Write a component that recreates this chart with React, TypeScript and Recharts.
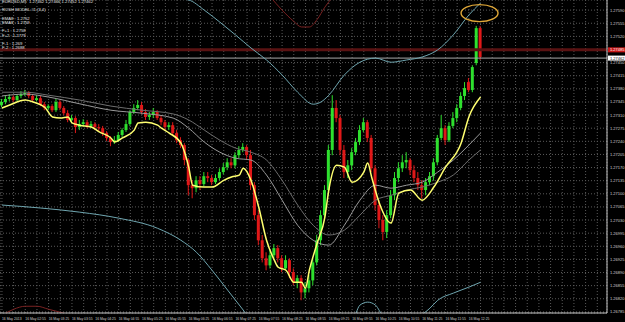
import React from "react";
import {
  ComposedChart,
  Bar,
  Line,
  XAxis,
  YAxis,
  CartesianGrid,
  ReferenceLine,
  ReferenceDot,
} from "recharts";

// ---- candle data (EURUSD M5) ----
const OPEN = [
  1.27337, 1.27345, 1.27353, 1.27358, 1.2735, 1.27361, 1.27366, 1.27369, 1.27361, 1.2735,
  1.27355, 1.27339, 1.27329, 1.27334, 1.27323, 1.27345, 1.27329, 1.27315, 1.27297, 1.27302,
  1.27278, 1.27286, 1.27291, 1.27281, 1.27286, 1.27278, 1.27275, 1.27262, 1.27249, 1.27238,
  1.27243, 1.27257, 1.2727, 1.27286, 1.27318, 1.27329, 1.27337, 1.27318, 1.27305, 1.2731,
  1.27318, 1.27302, 1.27291, 1.27278, 1.27283, 1.27262, 1.27243, 1.2723, 1.2719, 1.27123,
  1.27115, 1.27136, 1.27126, 1.27147, 1.27142, 1.27131, 1.27142, 1.27158, 1.27171, 1.27184,
  1.27176, 1.27203, 1.27217, 1.27225, 1.27203, 1.27123, 1.27043, 1.26976, 1.26928, 1.26909,
  1.26936, 1.26955, 1.26928, 1.26901, 1.26923, 1.26891, 1.26864, 1.26875, 1.26837, 1.26848,
  1.26869, 1.26917, 1.26976, 1.27043, 1.2711, 1.27217, 1.27329, 1.27302, 1.27217, 1.27158,
  1.27176, 1.27211, 1.27238, 1.2727, 1.27291, 1.27249, 1.27168, 1.2707, 1.2703, 1.26998,
  1.27043, 1.27096, 1.27142, 1.27168, 1.27184, 1.2719, 1.27163, 1.27142, 1.27123, 1.2711,
  1.27131, 1.27147, 1.27184, 1.27249, 1.27275, 1.27243, 1.27281, 1.27302, 1.27329, 1.27361,
  1.27398, 1.27377, 1.27449, 1.27542,
];
const HIGH = [
  1.27353, 1.27361, 1.27366, 1.27363, 1.27366, 1.27374, 1.27377, 1.27374, 1.27366, 1.27363,
  1.27361, 1.27345, 1.27339, 1.27339, 1.27355, 1.2735, 1.27334, 1.27323, 1.2731, 1.27307,
  1.27297, 1.27299, 1.27297, 1.27294, 1.27291, 1.27286, 1.27281, 1.27267, 1.27254, 1.27254,
  1.27265, 1.27275, 1.27297, 1.27323, 1.27339, 1.2735, 1.27345, 1.27326, 1.27318, 1.27329,
  1.27323, 1.2731, 1.27297, 1.27291, 1.27291, 1.2727, 1.27251, 1.27235, 1.27195, 1.27136,
  1.27147, 1.27147, 1.27158, 1.27158, 1.2715, 1.27152, 1.27168, 1.27182, 1.27195, 1.27195,
  1.27211, 1.27227, 1.27235, 1.2723, 1.27217, 1.27131, 1.27056, 1.2699, 1.26944, 1.26949,
  1.26966, 1.26963, 1.26936, 1.26936, 1.26928, 1.26901, 1.26883, 1.26883, 1.26864, 1.26883,
  1.26928, 1.2699, 1.27056, 1.27123, 1.2723, 1.27363, 1.2735, 1.2731, 1.2723, 1.2719,
  1.27222, 1.27249, 1.27283, 1.27302, 1.27297, 1.27257, 1.27176, 1.27083, 1.27043, 1.27056,
  1.2711, 1.27158, 1.27184, 1.27203, 1.27211, 1.27195, 1.27176, 1.27158, 1.27136, 1.27142,
  1.27158, 1.27195, 1.27257, 1.2731, 1.27283, 1.27291, 1.27318, 1.27339, 1.27371, 1.27398,
  1.27409, 1.27443, 1.27548, 1.27548,
];
const LOW = [
  1.27331, 1.27339, 1.27347, 1.27345, 1.27347, 1.27355, 1.27361, 1.27355, 1.27345, 1.27347,
  1.27334, 1.27323, 1.27323, 1.27318, 1.27318, 1.27323, 1.2731, 1.27291, 1.27291, 1.27262,
  1.2727, 1.27281, 1.27275, 1.27275, 1.2727, 1.27267, 1.27254, 1.27241, 1.27227, 1.27233,
  1.27238, 1.27251, 1.27265, 1.27281, 1.27313, 1.27323, 1.27313, 1.27297, 1.27297, 1.27302,
  1.27297, 1.27283, 1.2727, 1.2727, 1.27254, 1.27235, 1.27222, 1.27176, 1.27096, 1.27088,
  1.27104, 1.2711, 1.2712, 1.27131, 1.27123, 1.27126, 1.27136, 1.27152, 1.27163, 1.27168,
  1.27168, 1.27195, 1.27211, 1.2719, 1.2711, 1.2703, 1.26963, 1.26917, 1.26896, 1.26901,
  1.26928, 1.26917, 1.26891, 1.26896, 1.26875, 1.26856, 1.26848, 1.26816, 1.26821, 1.26837,
  1.26856, 1.26909, 1.26963, 1.2703, 1.27096, 1.27203, 1.27291, 1.27203, 1.27142, 1.27142,
  1.27163, 1.27203, 1.2723, 1.27265, 1.27238, 1.27158, 1.27056, 1.27008, 1.26976, 1.26982,
  1.27035, 1.27083, 1.27131, 1.27158, 1.27168, 1.2715, 1.27131, 1.2711, 1.27088, 1.27096,
  1.27123, 1.27136, 1.27176, 1.27243, 1.2723, 1.27238, 1.27275, 1.27291, 1.27323, 1.2735,
  1.27371, 1.27371, 1.27443, 1.27457,
];
const CLOSE = [
  1.27345, 1.27353, 1.27358, 1.2735, 1.27361, 1.27366, 1.27369, 1.27361, 1.2735, 1.27355,
  1.27339, 1.27329, 1.27334, 1.27323, 1.27345, 1.27329, 1.27315, 1.27297, 1.27302, 1.27278,
  1.27286, 1.27291, 1.27281, 1.27286, 1.27278, 1.27275, 1.27262, 1.27249, 1.27238, 1.27243,
  1.27257, 1.2727, 1.27286, 1.27318, 1.27329, 1.27337, 1.27318, 1.27305, 1.2731, 1.27318,
  1.27302, 1.27291, 1.27278, 1.27283, 1.27262, 1.27243, 1.2723, 1.2719, 1.27123, 1.27115,
  1.27136, 1.27126, 1.27147, 1.27142, 1.27131, 1.27142, 1.27158, 1.27171, 1.27184, 1.27176,
  1.27203, 1.27217, 1.27225, 1.27203, 1.27123, 1.27043, 1.26976, 1.26928, 1.26909, 1.26936,
  1.26955, 1.26928, 1.26901, 1.26923, 1.26891, 1.26864, 1.26875, 1.26837, 1.26848, 1.26869,
  1.26917, 1.26976, 1.27043, 1.2711, 1.27217, 1.27329, 1.27302, 1.27217, 1.27158, 1.27176,
  1.27211, 1.27238, 1.2727, 1.27291, 1.27249, 1.27168, 1.2707, 1.2703, 1.26998, 1.27043,
  1.27096, 1.27142, 1.27168, 1.27184, 1.2719, 1.27163, 1.27142, 1.27123, 1.2711, 1.27131,
  1.27147, 1.27184, 1.27249, 1.27275, 1.27243, 1.27281, 1.27302, 1.27329, 1.27361, 1.27382,
  1.27377, 1.27438, 1.27542, 1.27465,
];

// ---- indicator lines (read at sampled bars) ----
const EMA_IDX = [0, 2, 6, 8, 11, 13, 15, 17, 18, 20, 23, 25, 28, 29, 31, 34, 35, 37, 40, 41, 43, 46, 48, 49, 52, 54, 57, 59, 61, 62, 64, 66, 68, 70, 71, 73, 75, 77, 78, 79, 81, 83, 84, 86, 88, 90, 93, 94, 95, 97, 100, 102, 105, 108, 111, 114, 118, 120, 123];
const EMA_VAL = [1.27329, 1.27337, 1.2735, 1.27345, 1.27331, 1.27305, 1.27302, 1.27305, 1.27289, 1.27283, 1.27278, 1.27265, 1.27249, 1.27238, 1.27249, 1.2727, 1.27289, 1.27291, 1.27283, 1.27275, 1.27262, 1.27235, 1.27171, 1.27123, 1.27118, 1.27118, 1.27136, 1.27145, 1.2715, 1.27168, 1.27136, 1.27064, 1.26976, 1.26923, 1.26904, 1.26896, 1.26864, 1.26864, 1.26848, 1.26896, 1.26968, 1.27038, 1.2711, 1.27176, 1.27171, 1.27131, 1.27158, 1.27182, 1.27145, 1.27075, 1.27022, 1.27102, 1.2711, 1.27083, 1.27118, 1.27171, 1.27235, 1.27305, 1.27358];

const MA1_IDX = [0, 6, 12, 20, 28, 36, 44, 48, 52, 56, 60, 64, 68, 72, 76, 80, 84, 88, 92, 96, 100, 104, 108, 112, 116, 120, 123];
const MA1_VAL = [1.27361, 1.27366, 1.27358, 1.2734, 1.27323, 1.27315, 1.27302, 1.27275, 1.27238, 1.27211, 1.27195, 1.2719, 1.2715, 1.27083, 1.27016, 1.26976, 1.26963, 1.27016, 1.27083, 1.27123, 1.27115, 1.27123, 1.27131, 1.27158, 1.2719, 1.2723, 1.27262];
const MA2_IDX = [0, 6, 12, 20, 28, 36, 44, 48, 52, 56, 60, 64, 68, 72, 76, 80, 84, 88, 92, 96, 100, 104, 108, 112, 116, 120, 123];
const MA2_VAL = [1.27371, 1.27371, 1.27363, 1.2735, 1.27334, 1.27323, 1.27313, 1.27297, 1.2727, 1.27243, 1.27222, 1.27211, 1.2719, 1.27136, 1.2707, 1.27016, 1.2699, 1.27003, 1.27043, 1.27083, 1.27096, 1.2711, 1.27118, 1.27131, 1.2715, 1.2719, 1.27217];

const UPPER_IDX = [0, 12, 24, 36, 44, 48, 52, 56, 60, 64, 68, 72, 76, 80, 82, 84, 88, 92, 96, 100, 104, 108, 112, 116, 120, 123];
const UPPER_VAL = [1.2763, 1.2763, 1.27632, 1.27628, 1.27622, 1.27617, 1.2759, 1.27558, 1.27524, 1.27489, 1.27457, 1.27417, 1.27371, 1.27339, 1.27345, 1.27363, 1.27417, 1.27451, 1.27462, 1.27451, 1.27457, 1.27465, 1.27484, 1.27524, 1.27577, 1.27609];
const LOWER_IDX = [0, 10, 20, 30, 40, 46, 50, 54, 58, 62, 66, 90, 92, 94, 96, 98, 104, 108, 110, 112, 116, 120, 123];
const LOWER_VAL = [1.2707, 1.27062, 1.27051, 1.27035, 1.27008, 1.26976, 1.26944, 1.26896, 1.26843, 1.2679, 1.26736, 1.26763, 1.26803, 1.26811, 1.26803, 1.26776, 1.26768, 1.26779, 1.26795, 1.26816, 1.26835, 1.26851, 1.26864];

const ARC_LOW_IDX = [0, 3, 6, 9, 12, 15, 18];
const ARC_LOW_VAL = [1.26776, 1.26792, 1.268, 1.268, 1.26792, 1.26784, 1.26776];
const ARC_TOP_IDX = [69, 72, 75, 77, 79, 81, 83, 85];
const ARC_TOP_VAL = [1.27625, 1.2759, 1.2756, 1.27545, 1.27545, 1.27565, 1.27598, 1.27625];

const TREND = [
  { i: 104, p: 1.27225 },
  { i: 134, p: 1.2678 },
];
const PEAK = { i: 123, p: 1.27582 };

const Y_TICKS = [
  1.26785, 1.2682, 1.26855, 1.2689, 1.26925, 1.2696, 1.26995, 1.2703, 1.27065, 1.271,
  1.27135, 1.2717, 1.27205, 1.2724, 1.27275, 1.2731, 1.27345, 1.2738, 1.27415, 1.2745,
  1.27485, 1.2752, 1.27555, 1.2759,
];
const TIME_LABELS = [
  "16 May 2013", "16 May 02:55", "16 May 03:25", "16 May 03:55", "16 May 04:25",
  "16 May 04:55", "16 May 05:25", "16 May 05:55", "16 May 06:25", "16 May 06:55",
  "16 May 07:25", "16 May 07:55", "16 May 08:25", "16 May 08:55", "16 May 09:25",
  "16 May 09:55", "16 May 10:25", "16 May 10:55", "16 May 11:25", "16 May 11:55",
  "16 May 12:25",
];
const INFO_LINES = [
  "EURUSD,M5  1.27462 1.27466 1.27452 1.27462",
  "",
  "ROSH MODEL #1 (3,4)",
  "",
  "EMA8 : 1.2752",
  "EMA8 : 1.2759",
  "",
  "F+1 : 1.2758",
  "F+2 : 1.2779",
  "",
  "F-1 : 1.269",
  "F-2 : 1.2688",
];
const RED_LEVEL = 1.27484;
const RED_TAG = "1.27485";
const BID = 1.27462;

const SLOTS = 156;
const LABEL_EVERY = 6;
const GRID_EVERY = 3;

function buildData() {
  const rows: any[] = [];
  for (let i = 0; i < SLOTS; i++) {
    const r: any = { i };
    if (i < OPEN.length) {
      r.range = [LOW[i], HIGH[i]];
      r.o = OPEN[i];
      r.c = CLOSE[i];
    }
    rows.push(r);
  }
  const put = (key: string, idx: number[], val: number[]) =>
    idx.forEach((ix, k) => {
      rows[ix][key] = val[k];
    });
  put("ema", EMA_IDX, EMA_VAL);
  put("ma1", MA1_IDX, MA1_VAL);
  put("ma2", MA2_IDX, MA2_VAL);
  put("up", UPPER_IDX, UPPER_VAL);
  put("lo", LOWER_IDX, LOWER_VAL);
  put("arcL", ARC_LOW_IDX, ARC_LOW_VAL);
  put("arcT", ARC_TOP_IDX, ARC_TOP_VAL);
  return rows;
}
const data = buildData();

const Candle = (props: any) => {
  const { x, y, width, height, payload } = props;
  if (!payload || payload.o == null) return null;
  const [lo, hi] = payload.range;
  const top = Math.min(y, y + height);
  const h = Math.abs(height);
  const k = hi - lo > 0 ? h / (hi - lo) : 0;
  const up = payload.c >= payload.o;
  const color = up ? "#2ee02e" : "#e01818";
  const bTop = top + (hi - Math.max(payload.o, payload.c)) * k;
  const bBot = top + (hi - Math.min(payload.o, payload.c)) * k;
  const cx = x + width / 2;
  return (
    <g>
      <line x1={cx} x2={cx} y1={top} y2={top + h} stroke={color} strokeWidth={1} />
      <rect x={x} y={bTop} width={width} height={Math.max(1, bBot - bTop)} fill={color} />
    </g>
  );
};

const FONT = "Liberation Sans, Arial, sans-serif";

const XTick = (props: any) => {
  const { x, payload } = props;
  const i = payload.value;
  if (i % LABEL_EVERY !== 0) return null;
  const label = TIME_LABELS[i / LABEL_EVERY];
  if (!label) return null;
  return (
    <text x={x} y={319.5} fontSize={3.4} fill="#d0d0d0" textAnchor="start" fontFamily={FONT}>
      {label}
    </text>
  );
};

const YTick = (props: any) => {
  const { y, payload } = props;
  const v = payload.value;
  if (Math.abs(v - RED_LEVEL) < 0.0001) return null;
  return (
    <text x={610} y={y + 1.5} fontSize={4} fill="#d0d0d0" textAnchor="start" fontFamily={FONT}>
      {v.toFixed(5)}
    </text>
  );
};

const priceTag = (bg: string, fg: string, text: string) => (p: any) => {
  const vb = p.viewBox || {};
  const y = vb.y || 0;
  return (
    <g>
      <rect x={608} y={y - 2.5} width={17} height={5} fill={bg} />
      <text x={610} y={y + 1.5} fontSize={4} fill={fg} fontFamily={FONT}>
        {text}
      </text>
    </g>
  );
};

const EllipseShape = (p: any) => (
  <ellipse cx={p.cx - 1} cy={p.cy} rx={18.5} ry={8.5} fill="none" stroke="#e0a838" strokeWidth={1.4} />
);

const noDot = () => <g />;

const xTicks = Array.from({ length: Math.floor(SLOTS / GRID_EVERY) + 1 }, (_, k) => k * GRID_EVERY).filter(
  (v) => v < SLOTS
);

const lineProps = {
  dot: noDot,
  activeDot: false,
  connectNulls: true,
  type: "monotone" as const,
  isAnimationActive: false,
  strokeWidth: 1,
};

export default function App() {
  return (
    <div style={{ position: "absolute", left: 0, top: 0, width: 625, height: 322, background: "#000" }}>
      <ComposedChart
        width={625}
        height={322}
        data={data}
        margin={{ top: 0, right: 0, bottom: 0, left: 0 }}
        barSize={3}
        style={{ background: "#000" }}
      >
        <CartesianGrid stroke="#5a5a5a" strokeDasharray="1 2" />
        <XAxis
          dataKey="i"
          type="category"
          ticks={xTicks}
          interval={0}
          tick={<XTick />}
          tickLine={false}
          axisLine={{ stroke: "#c8c8c8" }}
          height={9}
        />
        <YAxis
          orientation="right"
          type="number"
          domain={[1.26782, 1.27617]}
          allowDataOverflow
          ticks={Y_TICKS}
          interval={0}
          tick={<YTick />}
          tickLine={false}
          axisLine={{ stroke: "#c8c8c8" }}
          width={18}
        />
        <ReferenceLine y={RED_LEVEL} stroke="#5a1212" strokeWidth={3} label={priceTag("#c81818", "#ffffff", RED_TAG)} />
        <ReferenceLine y={BID} stroke="#a8a8a8" strokeWidth={1} label={priceTag("#ffffff", "#000000", BID.toFixed(5))} />
        <Line dataKey="up" stroke="#6fa6b0" {...lineProps} />
        <Line dataKey="lo" stroke="#6fa6b0" {...lineProps} />
        <Line dataKey="arcL" stroke="#7a2222" {...lineProps} />
        <Line dataKey="arcT" stroke="#7a2222" {...lineProps} />
        <Line dataKey="ma2" stroke="#6e6e6e" {...lineProps} />
        <Line dataKey="ma1" stroke="#9a9a9a" {...lineProps} />
        <ReferenceLine
          segment={[
            { x: TREND[0].i, y: TREND[0].p },
            { x: TREND[1].i, y: TREND[1].p },
          ]}
          stroke="#7a1e1e"
          strokeWidth={1}
        />
        <Bar dataKey="range" shape={<Candle />} isAnimationActive={false} />
        <Line dataKey="ema" stroke="#ffff70" {...lineProps} strokeWidth={1.5} />
        <ReferenceDot x={PEAK.i} y={PEAK.p} shape={<EllipseShape />} />
      </ComposedChart>
      <div
        style={{
          position: "absolute",
          left: 2,
          top: 0,
          fontFamily: FONT,
          fontSize: 4.2,
          lineHeight: "4.2px",
          color: "#e0e0e0",
          pointerEvents: "none",
          whiteSpace: "pre",
        }}
      >
        {INFO_LINES.map((t, k) => (
          <div key={k} style={{ height: 4.2 }}>{t || "\u00a0"}</div>
        ))}
      </div>
    </div>
  );
}
